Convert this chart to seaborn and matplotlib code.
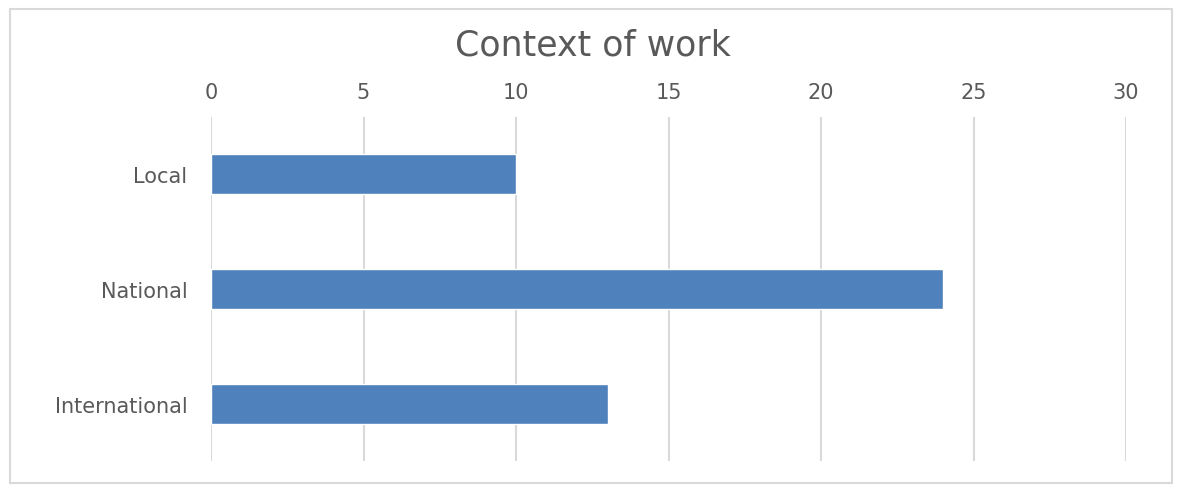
import matplotlib
matplotlib.use("Agg")
import matplotlib.pyplot as plt
import seaborn as sns
import pandas as pd
from matplotlib.patches import Rectangle

categories = ["Local", "National", "International"]
values = [10, 24, 13]
xticks = [0, 5, 10, 15, 20, 25, 30]

sns.set_theme(style="white")
plt.rcParams["font.family"] = ["DejaVu Sans"]

df = pd.DataFrame({"Context": categories, "Count": values})

fig = plt.figure(figsize=(11.77, 4.89), dpi=100)
W, H = 1177, 489
ax = fig.add_axes([211 / W, 1 - 462 / H, (1126 - 211) / W, (462 - 118) / H])

sns.barplot(data=df, x="Count", y="Context", orient="h", color="#4F81BD",
            saturation=1, width=0.35, ax=ax, order=categories)

ax.set_xlim(0, 30)
ax.set_ylim(2.5, -0.5)
ax.set_xticks(xticks)
ax.xaxis.tick_top()
ax.xaxis.set_label_position("top")
ax.set_xlabel("")
ax.set_ylabel("")
ax.grid(axis="x", color="#D9D9D9", linewidth=1.5)
ax.grid(axis="y", visible=False)
ax.set_axisbelow(True)
for s in ax.spines.values():
    s.set_visible(False)
ax.tick_params(axis="x", length=0, pad=11, labelsize=15, labelcolor="#595959")
ax.tick_params(axis="y", length=0, pad=17, labelsize=15, labelcolor="#595959")

fig.text(593 / W, 1 - 46 / H, "Context of work", ha="center", va="center",
         fontsize=25, color="#595959")

fig.patches.append(Rectangle((10 / W, 5 / H), (1172 - 10) / W, (484 - 10) / H,
                             transform=fig.transFigure, fill=False,
                             edgecolor="#D9D9D9", linewidth=1.5))

fig.savefig("out.png", dpi=100)
